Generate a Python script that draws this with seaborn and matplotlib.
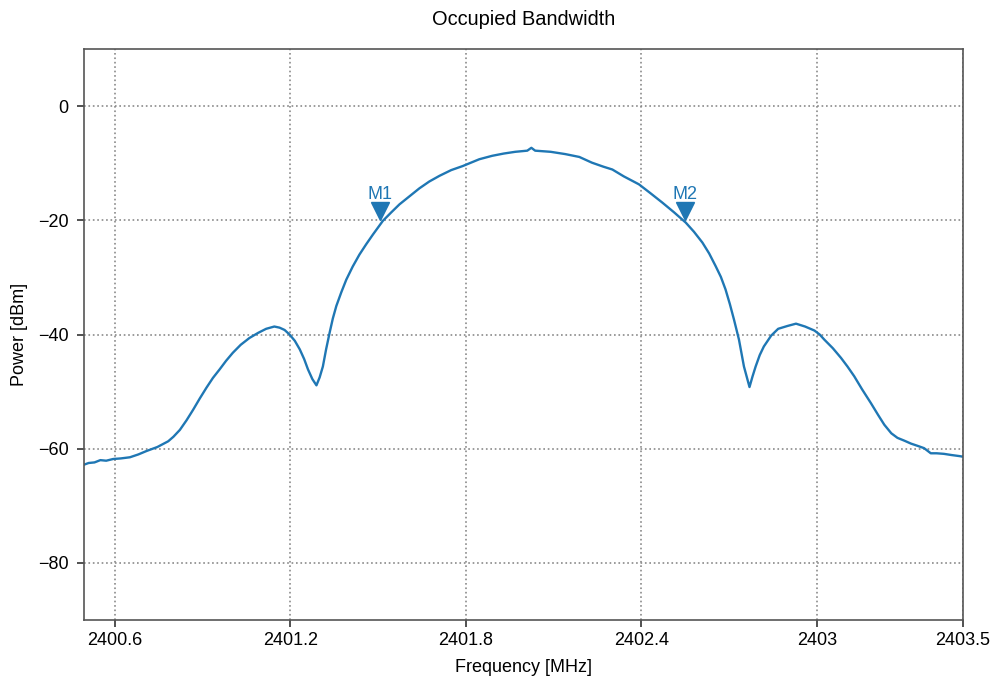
import matplotlib
matplotlib.use("Agg")
import matplotlib.pyplot as plt
import matplotlib.transforms as mtransforms
import pandas as pd
import seaborn as sns

# trace (MHz, dBm)
freq_mhz = [
    2400.494, 2400.510, 2400.530, 2400.550, 2400.570, 2400.594, 2400.620, 2400.651,
    2400.680, 2400.708, 2400.745, 2400.782, 2400.800, 2400.822, 2400.845, 2400.867,
    2400.890, 2400.913, 2400.935, 2400.958, 2400.980, 2401.003, 2401.030, 2401.060,
    2401.090, 2401.117, 2401.145, 2401.163, 2401.180, 2401.197, 2401.215, 2401.232,
    2401.247, 2401.260, 2401.275, 2401.289, 2401.300, 2401.311, 2401.322, 2401.334,
    2401.345, 2401.357, 2401.374, 2401.391, 2401.413, 2401.436, 2401.459, 2401.482,
    2401.516, 2401.545, 2401.573, 2401.607, 2401.641, 2401.675, 2401.710, 2401.750,
    2401.789, 2401.846, 2401.890, 2401.930, 2401.969, 2402.010, 2402.024, 2402.037,
    2402.090, 2402.140, 2402.188, 2402.231, 2402.270, 2402.301, 2402.340, 2402.392,
    2402.430, 2402.472, 2402.512, 2402.552, 2402.580, 2402.609, 2402.632, 2402.654,
    2402.672, 2402.688, 2402.703, 2402.717, 2402.734, 2402.751, 2402.770, 2402.780,
    2402.791, 2402.805, 2402.819, 2402.844, 2402.868, 2402.900, 2402.929, 2402.960,
    2402.992, 2403.010, 2403.026, 2403.055, 2403.083, 2403.105, 2403.128, 2403.155,
    2403.185, 2403.210, 2403.231, 2403.255, 2403.276, 2403.300, 2403.322, 2403.345,
    2403.367, 2403.390, 2403.410, 2403.435, 2403.460, 2403.489, 2403.500,
]
power_dbm = [
    -62.8, -62.5, -62.4, -62.0, -62.1, -61.8, -61.7, -61.5,
    -61.0, -60.4, -59.7, -58.7, -57.9, -56.7, -55.0, -53.2,
    -51.2, -49.3, -47.6, -46.1, -44.6, -43.2, -41.8, -40.6,
    -39.7, -39.0, -38.6, -38.8, -39.2, -40.0, -41.1, -42.6,
    -44.3, -46.1, -47.8, -48.9, -47.5, -45.6, -42.6, -39.7,
    -37.2, -35.0, -32.6, -30.4, -28.1, -26.0, -24.2, -22.5,
    -20.1, -18.6, -17.2, -15.8, -14.4, -13.2, -12.2, -11.2,
    -10.5, -9.3, -8.7, -8.3, -8.0, -7.8, -7.3, -7.8,
    -8.0, -8.4, -8.9, -9.9, -10.6, -11.1, -12.3, -13.7,
    -15.2, -16.9, -18.6, -20.4, -22.0, -23.9, -25.8, -28.0,
    -29.9, -32.1, -34.7, -37.4, -40.9, -45.6, -49.2, -47.4,
    -45.6, -43.6, -42.1, -40.2, -39.0, -38.5, -38.1, -38.6,
    -39.3, -40.0, -40.9, -42.4, -44.1, -45.6, -47.3, -49.6,
    -52.0, -54.1, -55.8, -57.3, -58.1, -58.6, -59.1, -59.5,
    -59.9, -60.8, -60.8, -60.9, -61.1, -61.3, -61.4,
]

marker_names = ["M1", "M2"]
marker_freq = [2401.507, 2402.549]
marker_power = [-20.0, -20.0]

x_ticks = [2400.6, 2401.2, 2401.8, 2402.4, 2403.0, 2403.5]
x_tick_labels = ["2400.6", "2401.2", "2401.8", "2402.4", "2403", "2403.5"]
y_ticks = [0, -20, -40, -60, -80]

sns.set_style("ticks")
plt.rcParams["font.family"] = ["Liberation Sans", "DejaVu Sans"]
plt.rcParams["font.size"] = 13
plt.rcParams["text.color"] = "black"
plt.rcParams["axes.labelcolor"] = "black"

blue = "#1f77b4"
df = pd.DataFrame({"freq": freq_mhz, "power": power_dbm})

fig = plt.figure(figsize=(9.95, 6.82), dpi=100)
ax = fig.add_axes([0.0844, 0.0909, 0.8834, 0.8372])
sns.lineplot(data=df, x="freq", y="power", ax=ax, color=blue, linewidth=1.7)

# markers: triangle tip sits on the trace, label above it
tri_off = mtransforms.offset_copy(ax.transData, fig=fig, x=0, y=6.5, units="points")
for name, f, p in zip(marker_names, marker_freq, marker_power):
    ax.plot(f, p, marker="v", markersize=13, color=blue, transform=tri_off, linestyle="none")
    ax.annotate(name, (f, p), xytext=(0, 12.5), textcoords="offset points",
                ha="center", va="bottom", color=blue, fontsize=13)

ax.set_xlim(2400.494, 2403.5)
ax.set_ylim(-90, 10)
ax.set_xticks(x_ticks)
ax.set_xticklabels(x_tick_labels)
ax.set_yticks(y_ticks)
ax.grid(True, linestyle=":", color="#8a8a8a", linewidth=1.2)
for s in ax.spines.values():
    s.set_visible(True)
    s.set_color("#555555")
    s.set_linewidth(1.2)
ax.tick_params(direction="out", length=5, width=1.2, color="#333333",
               labelcolor="black", labelsize=13)
ax.tick_params(axis="y", pad=6)

ax.set_xlabel("Frequency [MHz]", labelpad=7)
ax.set_ylabel("Power [dBm]", labelpad=7)
ax.set_title("Occupied Bandwidth", pad=17, fontsize=14.4)

fig.savefig("out.png", dpi=100)
